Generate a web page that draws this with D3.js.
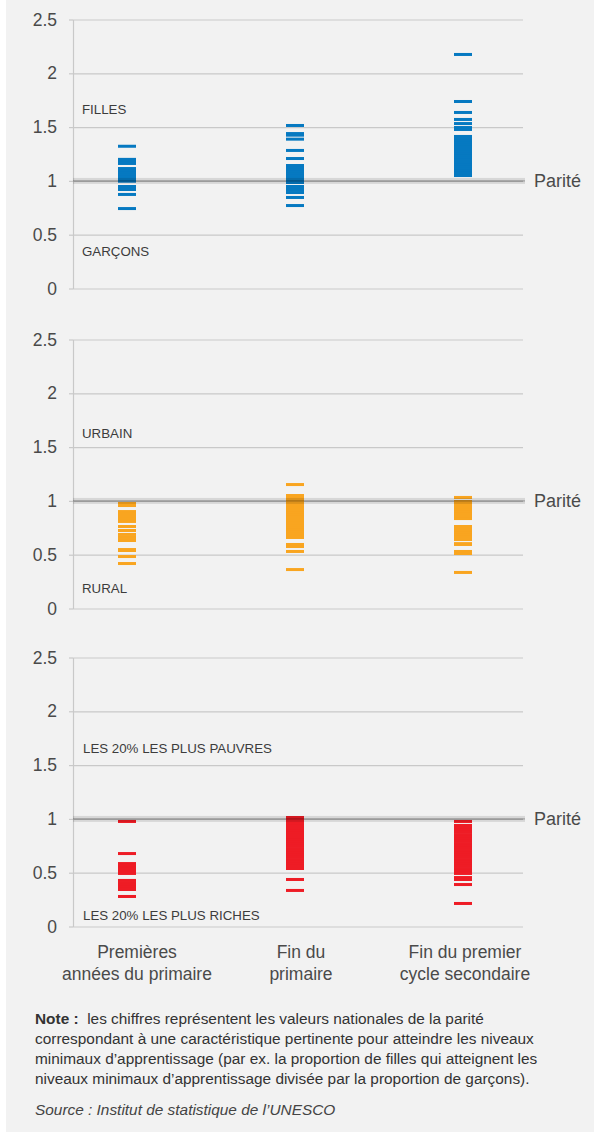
<!DOCTYPE html>
<html><head><meta charset="utf-8">
<script src="https://cdn.jsdelivr.net/npm/d3@7"></script>
<style>
html,body{margin:0;padding:0;background:#fff;}
text{font-family:"Liberation Sans",Arial,Helvetica,sans-serif;}
</style></head>
<body><svg id="chart" width="594" height="1132"></svg>
<script>
// ---------- DATA ----------
const categories = ["Premières années du primaire", "Fin du primaire", "Fin du premier cycle secondaire"];
const categoryLines = [["Premières", "années du primaire"], ["Fin du", "primaire"], ["Fin du premier", "cycle secondaire"]];
const yTickValues = [0, 0.5, 1, 1.5, 2, 2.5];
const yTickLabels = ["0", "0.5", "1", "1.5", "2", "2.5"];
const parityValue = 1;
const parityLabel = "Parité";

// Sexe (filles / garçons)
const genderEarly = [1.322, 1.20, 1.18, 1.162, 1.115, 1.095, 1.075, 1.055, 1.035, 1.015, 0.997, 0.948, 0.92, 0.874, 0.743];
const genderEndPrimary = [1.515, 1.44, 1.425, 1.388, 1.283, 1.208, 1.143, 1.123, 1.103, 1.083, 1.063, 1.043, 1.023, 1.003, 0.985, 0.948, 0.92, 0.892, 0.846, 0.771];
const genderLowerSec = [2.175, 1.738, 1.636, 1.571, 1.533, 1.496, 1.478, 1.413, 1.392, 1.372, 1.352, 1.331, 1.311, 1.291, 1.27, 1.25, 1.23, 1.21, 1.19, 1.17, 1.15, 1.13, 1.11, 1.09, 1.07, 1.05];

// Lieu (urbain / rural)
const locationEarly = [0.976, 0.957, 0.901, 0.878, 0.855, 0.832, 0.809, 0.762, 0.725, 0.688, 0.66, 0.632, 0.548, 0.539, 0.483, 0.418];
const locationEndPrimary = [1.152, 1.05, 1.03, 1.01, 0.99, 0.97, 0.95, 0.93, 0.91, 0.89, 0.87, 0.85, 0.83, 0.81, 0.79, 0.77, 0.75, 0.73, 0.71, 0.69, 0.675, 0.66, 0.595, 0.576, 0.53, 0.362];
const locationLowerSec = [1.032, 0.994, 0.974, 0.954, 0.934, 0.914, 0.894, 0.874, 0.855, 0.836, 0.762, 0.742, 0.722, 0.702, 0.682, 0.662, 0.641, 0.603, 0.595, 0.53, 0.511, 0.335];

// Richesse (20% les plus pauvres / 20% les plus riches)
const wealthEarly = [0.976, 0.678, 0.585, 0.567, 0.548, 0.53, 0.511, 0.493, 0.428, 0.407, 0.386, 0.365, 0.344, 0.279];
const wealthEndPrimary = [1.013, 0.992, 0.972, 0.951, 0.93, 0.91, 0.889, 0.868, 0.848, 0.827, 0.807, 0.786, 0.765, 0.745, 0.724, 0.704, 0.683, 0.662, 0.642, 0.621, 0.601, 0.58, 0.56, 0.539, 0.437, 0.335];
const wealthLowerSec = [0.976, 0.939, 0.918, 0.897, 0.876, 0.854, 0.833, 0.812, 0.791, 0.77, 0.748, 0.727, 0.706, 0.685, 0.664, 0.642, 0.621, 0.6, 0.579, 0.558, 0.536, 0.515, 0.493, 0.455, 0.437, 0.39, 0.214];

const panelTopLabels = ["FILLES", "URBAIN", "LES 20% LES PLUS PAUVRES"];
const panelBottomLabels = ["GARÇONS", "RURAL", "LES 20% LES PLUS RICHES"];

const noteBold = "Note :";
const noteLines = [
  " les chiffres représentent les valeurs nationales de la parité",
  "correspondant à une caractéristique pertinente pour atteindre les niveaux",
  "minimaux d’apprentissage (par ex. la proportion de filles qui atteignent les",
  "niveaux minimaux d’apprentissage divisée par la proportion de garçons)."
];
const sourceText = "Source : Institut de statistique de l’UNESCO";

// ---------- LAYOUT / STYLE ----------
const panels = [
  {series: [genderEarly, genderEndPrimary, genderLowerSec], color: "#0679c1", top: 19.5, topLabelDy: 94.5, bottomLabelDy: 236.5, labelX: 82},
  {series: [locationEarly, locationEndPrimary, locationLowerSec], color: "#f9a520", top: 339.5, topLabelDy: 98.5, bottomLabelDy: 253.5, labelX: 82},
  {series: [wealthEarly, wealthEndPrimary, wealthLowerSec], color: "#ee1c25", top: 657.5, topLabelDy: 95.5, bottomLabelDy: 262.5, labelX: 83}
];
const panelH = 269;
const plotLeft = 73, plotRight = 523;
const markW = 18, markH = 3;

const svg = d3.select("#chart");
svg.append("rect").attr("x", 6).attr("y", 0).attr("width", 588).attr("height", 1132).attr("fill", "#f2f2f2");

const xMarks = d3.scalePoint().domain(categories).range([127, 463]);
const xLabels = d3.scalePoint().domain(categories).range([137, 465]);

panels.forEach((p, i) => {
  const y = d3.scaleLinear().domain([0, 2.5]).range([p.top + panelH, p.top]);
  const g = svg.append("g");

  const grid = g.append("g").attr("transform", `translate(${plotLeft},0)`)
    .call(d3.axisLeft(y).tickValues(yTickValues).tickSize(-(plotRight - plotLeft)).tickFormat(""));
  grid.select(".domain").remove();
  grid.selectAll("line").attr("stroke", "#c9c9c9").attr("stroke-width", 1.2);

  const ax = g.append("g").attr("transform", `translate(${plotLeft},0)`)
    .call(d3.axisLeft(y).tickValues(yTickValues).tickSize(4).tickSizeOuter(0).tickPadding(12)
      .tickFormat((d, k) => yTickLabels[k]));
  ax.select(".domain").attr("stroke", "#c9c9c9").attr("stroke-width", 1.2);
  ax.selectAll(".tick line").attr("stroke", "#c9c9c9").attr("stroke-width", 1.2);
  ax.selectAll(".tick text").attr("fill", "#4a4a4a").attr("font-size", 17.5)
    .attr("font-family", '"Liberation Sans",Arial,sans-serif');

  categories.forEach((c, ci) => {
    g.append("g").selectAll("rect").data(p.series[ci]).join("rect")
      .attr("x", xMarks(c) - markW / 2)
      .attr("y", d => y(d) - markH / 2)
      .attr("width", markW).attr("height", markH)
      .attr("fill", p.color);
  });

  g.append("rect").attr("x", plotLeft).attr("y", y(parityValue) - 3)
    .attr("width", plotRight + 2 - plotLeft).attr("height", 6)
    .attr("fill", "rgba(0,0,0,0.11)");
  g.append("line").attr("x1", plotLeft).attr("x2", plotRight + 2)
    .attr("y1", y(parityValue)).attr("y2", y(parityValue))
    .attr("stroke", "rgba(0,0,0,0.18)").attr("stroke-width", 1.6);
  g.append("text").attr("x", 534).attr("y", y(parityValue) + 6.5)
    .attr("font-size", 18).attr("fill", "#4a4a4a").text(parityLabel);

  g.append("text").attr("x", p.labelX).attr("y", p.top + p.topLabelDy)
    .attr("font-size", 13.3).attr("fill", "#3c3c3c").text(panelTopLabels[i]);
  g.append("text").attr("x", p.labelX).attr("y", p.top + p.bottomLabelDy)
    .attr("font-size", 13.3).attr("fill", "#3c3c3c").text(panelBottomLabels[i]);
});

categories.forEach((c, ci) => {
  const t = svg.append("text").attr("text-anchor", "middle").attr("font-size", 17.5).attr("fill", "#4a4a4a");
  categoryLines[ci].forEach((ln, li) => {
    t.append("tspan").attr("x", xLabels(c)).attr("y", 958 + li * 22).text(ln);
  });
});

const note = svg.append("g").attr("font-size", 15.4).attr("fill", "#333");
noteLines.forEach((ln, li) => {
  const t = note.append("text").attr("x", 35).attr("y", 1024 + li * 20);
  if (li === 0) {
    t.append("tspan").attr("font-weight", "bold").text(noteBold);
    t.append("tspan").text("\u00a0" + ln);
  } else t.text(ln);
});
svg.append("text").attr("x", 35).attr("y", 1115).attr("font-size", 15.4).attr("font-style", "italic")
  .attr("fill", "#444").text(sourceText);
</script>
</body></html>
